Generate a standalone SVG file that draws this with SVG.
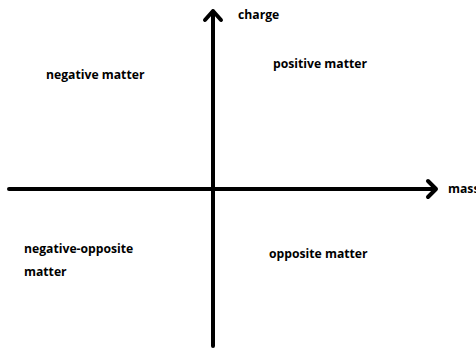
<svg xmlns="http://www.w3.org/2000/svg" width="476" height="349" viewBox="0 0 476 349">
<style>
.ax{stroke:#000;stroke-width:4;fill:none;stroke-linecap:round;stroke-linejoin:round}
.t{font-family:"Open Sans","Liberation Sans",sans-serif;font-weight:bold;font-size:12.2px;fill:#000}
</style>
<rect width="476" height="349" fill="#fff"/>
<g id="connectors">
<path class="ax" d="M9 189 H436 M428 181 L436 189 L428 197"/>
<path class="ax" d="M213 346 V11 M205 20 L213 11 L221 20"/>
</g>
<g id="charge"><text class="t" x="238" y="19">charge</text></g>
<g id="mass"><text class="t" x="448" y="193">mass</text></g>
<g id="negative-matter"><text class="t" x="46" y="79">negative matter</text></g>
<g id="positive-matter"><text class="t" x="273" y="68">positive matter</text></g>
<g id="negative-opposite"><text class="t" x="24" y="253">negative-opposite</text><text class="t" x="24" y="276">matter</text></g>
<g id="opposite-matter"><text class="t" x="269" y="258">opposite matter</text></g>
</svg>
